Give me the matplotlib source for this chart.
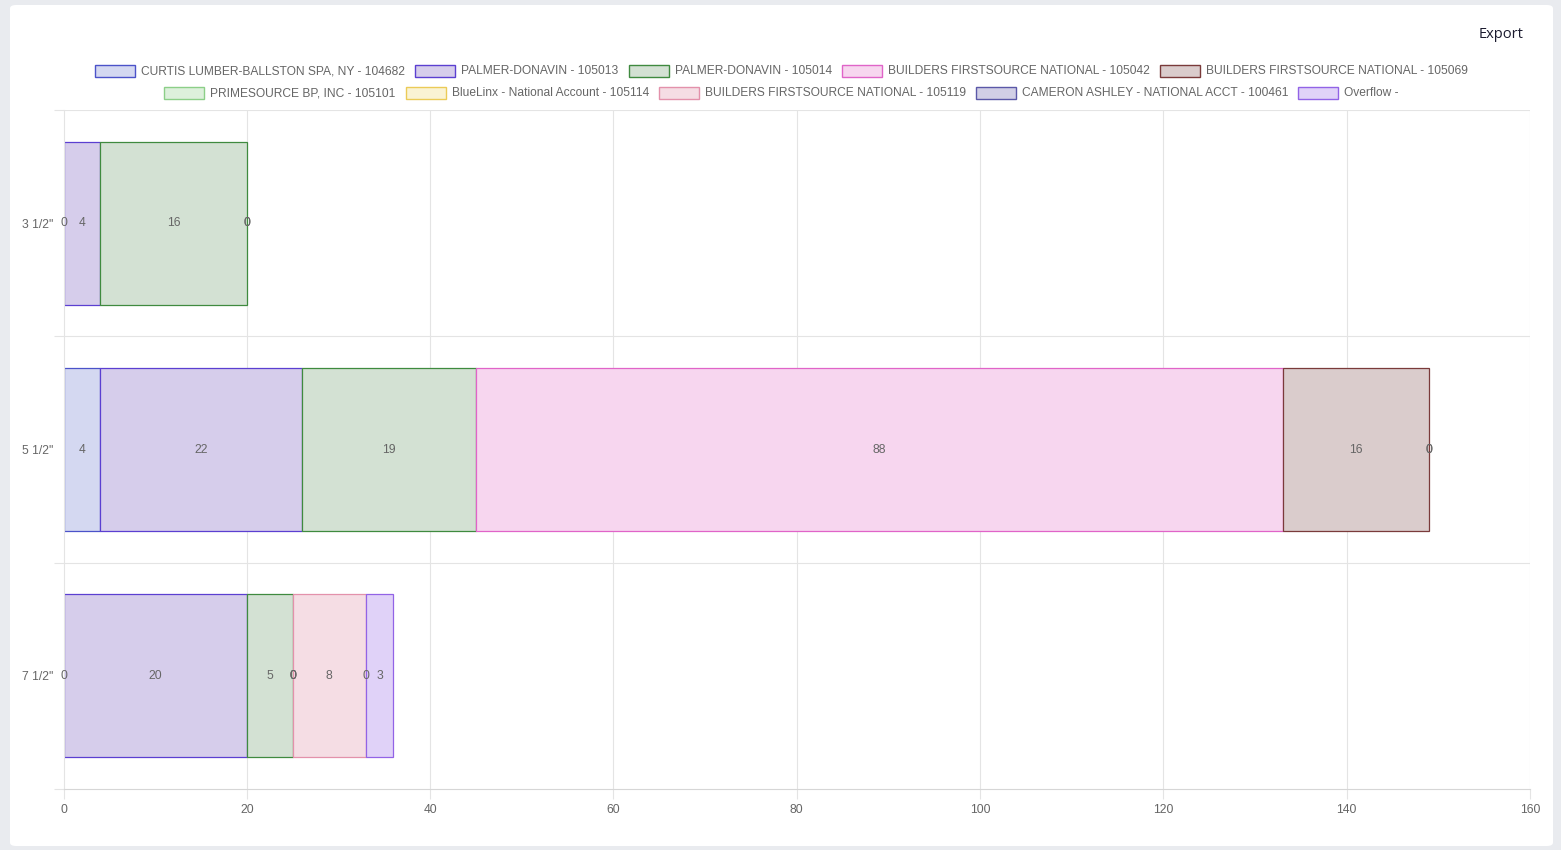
import matplotlib
matplotlib.use("Agg")
import matplotlib.pyplot as plt
from matplotlib.patches import FancyBboxPatch, Rectangle
import numpy as np

plt.rcParams['font.family'] = ['Liberation Sans', 'DejaVu Sans']

categories = ['3 1/2"', '5 1/2"', '7 1/2"']
series_names = [
    "CURTIS LUMBER-BALLSTON SPA, NY - 104682",
    "PALMER-DONAVIN - 105013",
    "PALMER-DONAVIN - 105014",
    "BUILDERS FIRSTSOURCE NATIONAL - 105042",
    "BUILDERS FIRSTSOURCE NATIONAL - 105069",
    "PRIMESOURCE BP, INC - 105101",
    "BlueLinx - National Account - 105114",
    "BUILDERS FIRSTSOURCE NATIONAL - 105119",
    "CAMERON ASHLEY - NATIONAL ACCT - 100461",
    "Overflow -",
]
# values per series, per category (None = no data)
curtis_104682 = [0, 4, 0]
palmer_105013 = [4, 22, 20]
palmer_105014 = [16, 19, 5]
bfn_105042 = [0, 88, 0]
bfn_105069 = [0, 16, 0]
primesource_105101 = [None, 0, 0]
bluelinx_105114 = [None, 0, None]
bfn_105119 = [None, None, 8]
cameron_100461 = [None, None, 0]
overflow = [None, None, 3]
series_values = [curtis_104682, palmer_105013, palmer_105014, bfn_105042, bfn_105069,
                 primesource_105101, bluelinx_105114, bfn_105119, cameron_100461, overflow]

fills = ['#d4d8f1', '#d6cdeb', '#d3e1d3', '#f7d6ef', '#dacccc',
         '#ddf0dc', '#faf3d4', '#f5dde4', '#d1cfe6', '#e0d2f8']
edges = ['#4b52c9', '#5b3fd1', '#3f8a3f', '#e064c8', '#7a3a3a',
         '#8ccf88', '#ebcb57', '#e391ab', '#5b58a8', '#9263e6']
xticks = [0, 20, 40, 60, 80, 100, 120, 140, 160]

W, H = 1561, 850
fig = plt.figure(figsize=(W / 100, H / 100), dpi=100)
fig.patch.set_facecolor('#e9ebef')

def fx(x):
    return x / W

def fy(y):
    return 1 - y / H

card = FancyBboxPatch((fx(10), fy(846)), fx(1553) - fx(10), fy(5) - fy(846),
                      boxstyle="round,pad=0,rounding_size=0.004",
                      transform=fig.transFigure, facecolor='white', edgecolor='none', zorder=-5)
fig.patches.append(card)

ax = fig.add_axes([fx(63.5), fy(789), fx(1530) - fx(63.5), fy(110) - fy(789)])
ax.set_zorder(1)
ax.set_facecolor('none')
ax.set_xlim(0, 160)
ax.set_ylim(len(categories) - 0.5, -0.5)

grid_c = '#e4e4e4'
for s in ['top', 'right']:
    ax.spines[s].set_visible(False)
ax.spines['left'].set_color(grid_c)
ax.spines['bottom'].set_color('#d6d6d6')
ax.spines['left'].set_linewidth(0.8)
ax.spines['bottom'].set_linewidth(0.8)

ax.set_xticks(xticks)
ax.set_xticklabels([str(t) for t in xticks])
ax.tick_params(axis='x', length=7, width=0.8, color=grid_c, labelsize=8.7,
               labelcolor='#666666', pad=4)
for t in xticks[1:]:
    ax.axvline(t, color=grid_c, lw=0.8, zorder=0.5)

ypos = np.arange(len(categories))
ax.set_yticks(ypos)
ax.set_yticklabels(categories)
ax.tick_params(axis='y', length=0, labelsize=8.7, labelcolor='#666666', pad=7.5)
bounds = np.arange(len(categories) + 1) - 0.5
ax.set_yticks(bounds, minor=True)
ax.tick_params(axis='y', which='minor', length=7, width=0.8, color=grid_c)
for b in bounds[:-1]:
    ax.axhline(b, color=grid_c, lw=0.8, zorder=0.5)

left = np.zeros(len(categories))
bar_h = 0.72
for vals, fc, ec in zip(series_values, fills, edges):
    for i, v in enumerate(vals):
        if v is None:
            continue
        if v > 0:
            ax.barh(ypos[i], v, left=left[i], height=bar_h, color=fc, edgecolor=ec,
                    linewidth=0.9, zorder=2)
        ax.text(left[i] + v / 2, ypos[i], str(v), ha='center', va='center',
                fontsize=8.7, color='#666666', zorder=3)
        left[i] += v

# Legend (Chart.js style, centred rows)
renderer = fig.canvas.get_renderer()
rows = [list(range(0, 5)), list(range(5, 10))]
row_y = [71, 93]
box_w, box_h, gap_txt, gap_item = 40, 12, 6, 10
center_x = 781.5
leg_fs = 8.66
for r, yy in zip(rows, row_y):
    widths = []
    for k in r:
        t = fig.text(0, 0, series_names[k], fontsize=leg_fs)
        bb = t.get_window_extent(renderer=renderer)
        widths.append(bb.width)
        t.remove()
    total = sum(box_w + gap_txt + w for w in widths) + gap_item * (len(r) - 1)
    x = center_x - total / 2
    for k, w in zip(r, widths):
        rect = Rectangle((fx(x), fy(yy + box_h / 2)), box_w / W, box_h / H,
                         transform=fig.transFigure, facecolor=fills[k], edgecolor=edges[k],
                         linewidth=1.0, zorder=3)
        fig.patches.append(rect)
        fig.text(fx(x + box_w + gap_txt), fy(yy + 0.5), series_names[k], fontsize=leg_fs,
                 color='#666666', va='center', ha='left')
        x += box_w + gap_txt + w + gap_item

fig.text(fx(1523), fy(34), "Export", fontsize=10.5, color='#1b1b2f', ha='right',
         va='center', family=['Open Sans', 'DejaVu Sans'], fontweight='medium')

fig.savefig('out.png', dpi=100, facecolor=fig.get_facecolor())
